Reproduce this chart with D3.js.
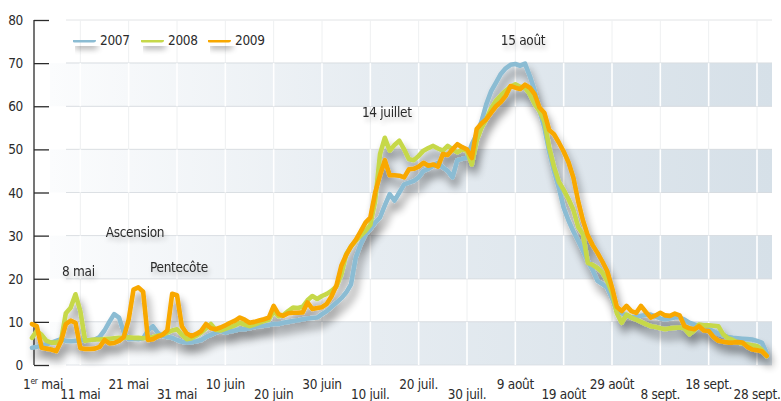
<!DOCTYPE html>
<html>
<head>
<meta charset="utf-8">
<script src="https://cdn.jsdelivr.net/npm/d3@7"></script>
<style>
  html, body { margin: 0; padding: 0; background: #fff; }
  svg { display: block; }
  text { font-family: "Liberation Sans Narrow", "DejaVu Sans Condensed", sans-serif; fill: #2b2b2b; letter-spacing: -0.3px; }
</style>
</head>
<body>
<svg id="chart" width="781" height="401"></svg>
<script>
// ---------- DATA ----------
const years = ["2007", "2008", "2009"];
const colors = ["#8bbcd3", "#c6d84a", "#f8a800"];

// daily values from 1 May (day 0) to 1 Oct (day 152)
const v2007 = [4,4.2,4.5,4.8,5.2,5.6,6,5.6,5.5,5.6,5.7,5.8,5.8,5.9,6.5,8,10,11.8,11,7.5,
  6,6.1,6,6.2,8,9,7.5,6.8,6.5,6.3,5.8,5.4,5.2,5.3,5.5,5.8,6.5,7,7.5,7.9,
  7.5,7.8,8,8.3,8.3,8.5,8.8,9,9.1,9.3,9.5,9.5,9.8,10,10.2,10.4,10.6,10.8,10.9,11,
  11.8,12.5,13.5,14.5,15.5,16.8,18.7,25,28,30.3,31.5,33,34.2,37,39.6,38.1,40,41.9,42.3,42.7,
  43.5,45,45.5,46.2,46.9,45.8,45,43.5,47.5,47.8,48.1,51.2,53.5,56.5,60.5,63.5,65.5,67.5,68.8,69.6,
  69.8,69.4,69.9,67,63.6,59,55.1,49.5,45,41.1,36.5,33.5,31,28.8,26.5,24.1,22,19.5,18.8,17.9,
  15.5,12.5,12,11.5,11,11.2,11.4,11.6,11.7,11.2,10.8,10.6,10.8,11,11,10.5,9.8,9.4,9,8.6,
  8.3,7.8,7.3,6.9,6.5,6.3,6.2,6.1,6,5.9,5.6,5.2,2.8];

const v2008 = [6.3,7.9,7,5.6,5.2,5.2,5.6,12,13.3,16.4,12.5,5.6,5.8,5.9,5.9,6,6.1,6.2,6.3,6.3,
  6.4,6.3,6.3,6.2,6.3,6.5,6.8,7,7.5,8,8.3,7,6,6.2,6.8,7.5,8.5,9.5,8.2,8,
  8.4,8.8,9.2,9.8,9.4,9,9.4,9.8,10.2,10.5,12.5,11.3,11.6,12.5,13.3,13.2,13.5,15,16,15.3,
  16,16.5,17.2,18.2,21,25.7,27.5,28.8,30,31.1,32.5,38,48.9,52.7,49.7,51,52,50,47.7,47.5,
  48.5,49.7,50.3,50.8,50.2,49.7,50.8,50,49.3,50,49.7,46.5,52,55,57,59.5,61.3,62.5,63.6,64.5,
  65.1,64.5,64.3,62.8,60.5,58.9,56.5,50.5,46,42.5,40.6,38.5,36,32,30.3,23.7,23.2,22.5,21.5,19.5,
  16.8,12,9.8,11.7,11,10.5,10,9.5,9,8.8,8.5,8.3,8.5,8.6,8.7,8.5,7.1,8,9.4,9.2,
  9.2,9.1,9,7.1,6.2,5.8,5.2,5,4.8,4.6,4.4,3.5,2.1];

const v2009 = [9.5,9,4,3.8,3.6,3.2,5.5,9.5,10.3,9.8,3.9,3.7,3.7,3.8,4.2,5.8,5,5.1,5.6,6.5,
  10.5,17.5,18,17,5.8,6,6.6,7,8,16.5,16.2,9,7.3,6.7,7.2,7.9,9.5,8.5,8.3,8.7,
  9.2,9.8,10.3,11,10.5,9.8,10,10.3,10.6,11,13.7,11.8,11.4,12,12.1,12.1,12.2,14.5,13,13.2,
  13.4,14.2,16,18.5,23,25.5,27.5,29,31,33,34.2,40,44,47.5,44,44,43.9,43.5,45.4,45.5,
  46,46.9,46.2,46.5,46,48.9,48.7,50,51.2,50.5,50,48,54.7,56,57,58.5,60,61,62.4,64.7,
  64.3,64,65,64.3,62.8,59.7,58.5,54.5,53.5,51.6,49.5,47,43.5,38,33.5,30,27.8,26,24,21.8,
  18,13.5,12.5,13.7,12.5,12.1,13.7,12.3,11,11.5,12.1,11.5,11.4,11.9,11.5,9,8.5,8.3,9,8,
  7.9,6.5,5.6,5.4,5.2,5.2,5.3,5.2,4.2,3.6,3.4,3.2,2.1];

const seriesValues = [v2007, v2008, v2009];

const yTicks = [0, 10, 20, 30, 40, 50, 60, 70, 80];
const xTickDays = [0, 10, 20, 30, 40, 50, 60, 70, 80, 90, 100, 110, 120, 130, 140, 150];
const xTickLabels = ["1er mai", "11 mai", "21 mai", "31 mai", "10 juin", "20 juin", "30 juin", "10 juil.",
  "20 juil.", "30 juil.", "9 août", "19 août", "29 août", "8 sept.", "18 sept.", "28 sept."];

const bandRanges = [[0, 10], [20, 30], [40, 50], [60, 70]];

const annotations = [
  { day: 9.6, value: 20.6, text: "8 mai" },
  { day: 21.3, value: 29.6, text: "Ascension" },
  { day: 30.4, value: 21.6, text: "Pentecôte" },
  { day: 73.4, value: 57.6, text: "14 juillet" },
  { day: 101.6, value: 74.2, text: "15 août" }
];

// ---------- CHART ----------
const svg = d3.select("#chart");
const x = d3.scaleLinear().domain([0, 150]).range([32, 757]);
const y = d3.scaleLinear().domain([0, 80]).range([365, 20]);
const FS = 13.5;

const defs = svg.append("defs");
const grad = defs.append("linearGradient").attr("id", "bandGrad")
  .attr("gradientUnits", "userSpaceOnUse")
  .attr("x1", 50).attr("x2", 772).attr("y1", 0).attr("y2", 0);
grad.append("stop").attr("offset", "0%").attr("stop-color", "#fbfcfd");
grad.append("stop").attr("offset", "45%").attr("stop-color", "#e6ecf1");
grad.append("stop").attr("offset", "100%").attr("stop-color", "#d6e0e8");

function makeShadow(id, std, dx, dy, slope) {
  const f = defs.append("filter").attr("id", id)
    .attr("filterUnits", "userSpaceOnUse")
    .attr("x", 0).attr("y", 0).attr("width", 781).attr("height", 401);
  f.append("feGaussianBlur").attr("in", "SourceAlpha").attr("stdDeviation", std).attr("result", "b");
  f.append("feOffset").attr("in", "b").attr("dx", dx).attr("dy", dy).attr("result", "o");
  f.append("feComponentTransfer").attr("in", "o").attr("result", "s")
    .append("feFuncA").attr("type", "linear").attr("slope", slope);
  const mg = f.append("feMerge");
  mg.append("feMergeNode").attr("in", "s");
  mg.append("feMergeNode").attr("in", "SourceGraphic");
}
makeShadow("shadow", 4, 3, 8, 0.45);
makeShadow("lshadow", 3, 2, 6, 0.4);
makeShadow("tshadow", 2.5, 2, 4, 0.22);

const plotLeft = 50, plotRight = 772;

// horizontal grid lines
svg.append("g").selectAll("line").data(yTicks.filter(d => d > 0)).join("line")
  .attr("x1", plotLeft + 16).attr("x2", plotRight)
  .attr("y1", d => y(d)).attr("y2", d => y(d))
  .attr("stroke", "#e2e4e6").attr("stroke-width", 1);

// faint vertical grid lines
svg.append("g").selectAll("line").data(xTickDays.slice(1)).join("line")
  .attr("x1", d => x(d)).attr("x2", d => x(d))
  .attr("y1", y(80)).attr("y2", y(0))
  .attr("stroke", "#eef0f1").attr("stroke-width", 1);

// bands
svg.append("g").selectAll("rect").data(bandRanges).join("rect")
  .attr("x", plotLeft).attr("width", plotRight - plotLeft)
  .attr("y", d => y(d[1])).attr("height", d => y(d[0]) - y(d[1]))
  .attr("fill", "url(#bandGrad)");

// band edge lines
svg.append("g").selectAll("line").data(bandRanges.flat()).join("line")
  .attr("x1", plotLeft + 16).attr("x2", plotRight)
  .attr("y1", d => y(d)).attr("y2", d => y(d))
  .attr("stroke", "#d5dadf").attr("stroke-width", 1).attr("opacity", 0.7);

// white vertical lines across bands
svg.append("g").selectAll("g").data(bandRanges).join("g")
  .each(function (b) {
    d3.select(this).selectAll("line").data(xTickDays.slice(1)).join("line")
      .attr("x1", d => x(d)).attr("x2", d => x(d))
      .attr("y1", y(b[1])).attr("y2", y(b[0]))
      .attr("stroke", "#ffffff").attr("stroke-width", 1.6);
  });

// y axis
const yAxis = d3.axisRight(y).tickValues(yTicks).tickSize(15).tickFormat("");
const ya = svg.append("g").attr("transform", `translate(${x(0) + 2},0)`).call(yAxis);
ya.select(".domain").attr("stroke", "#2b2b2b").attr("stroke-width", 1.3)
  .attr("d", `M0,${y(80)}V${y(0)}`);
ya.selectAll(".tick line").attr("stroke", "#2b2b2b").attr("stroke-width", 1.3);

svg.append("g").selectAll("text").data(yTicks).join("text")
  .attr("x", 23).attr("y", d => y(d) + 5)
  .attr("text-anchor", "end").attr("font-size", FS)
  .text(d => d);

// x tick labels
const xl = svg.append("g").selectAll("text").data(xTickDays).join("text")
  .attr("x", (d, i) => i === 0 ? x(d) - 9 : x(d))
  .attr("y", (d, i) => i % 2 === 0 ? 389 : 399)
  .attr("text-anchor", (d, i) => i === 0 ? "start" : "middle")
  .attr("font-size", FS);
xl.each(function (d, i) {
  const t = d3.select(this);
  const lbl = xTickLabels[i];
  if (lbl.startsWith("1er")) {
    t.append("tspan").text("1");
    t.append("tspan").attr("font-size", 8.5).attr("dy", -5).text("er");
    t.append("tspan").attr("dy", 5).text(" mai");
  } else {
    t.text(lbl);
  }
});

// lines
const line = d3.line().x((d, i) => x(i)).y(d => y(d)).curve(d3.curveLinear);
const lg = svg.append("g").attr("filter", "url(#shadow)");
lg.selectAll("path").data(seriesValues).join("path")
  .attr("d", d => line(d))
  .attr("fill", "none")
  .attr("stroke", (d, i) => colors[i])
  .attr("stroke-width", 4.6)
  .attr("stroke-linejoin", "round")
  .attr("stroke-linecap", "round");

// legend
const legendX = [73, 141, 208];
const leg = svg.append("g");
const items = leg.selectAll("g").data(years).join("g")
  .attr("transform", (d, i) => `translate(${legendX[i]},40)`);
items.append("rect").attr("x", -1).attr("y", -2.5).attr("width", 24).attr("height", 5)
  .attr("rx", 2.5).attr("ry", 2.5)
  .attr("fill", (d, i) => colors[i])
  .attr("filter", "url(#lshadow)");
items.append("text").attr("x", 27).attr("y", 5).attr("font-size", FS).text(d => d);

// annotations
svg.append("g").selectAll("text").data(annotations).join("text")
  .attr("x", d => x(d.day)).attr("y", d => y(d.value))
  .attr("text-anchor", "middle").attr("font-size", FS)
  .attr("filter", "url(#tshadow)")
  .text(d => d.text);
</script>
</body>
</html>
